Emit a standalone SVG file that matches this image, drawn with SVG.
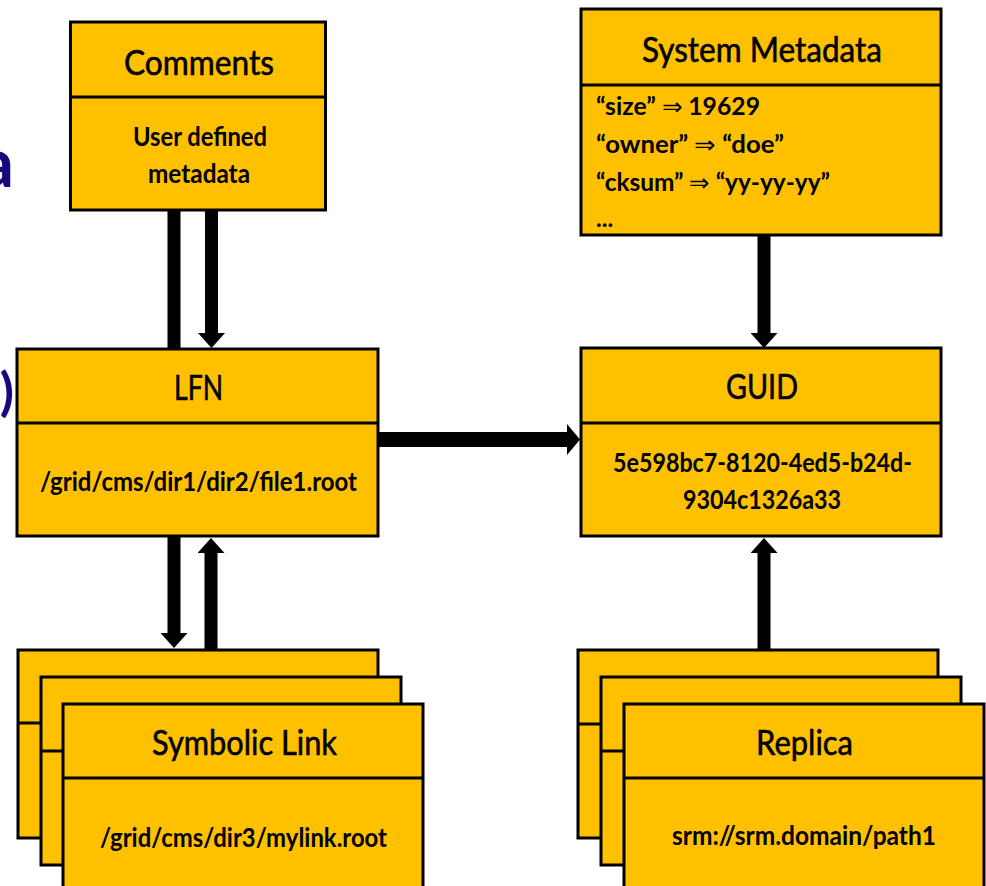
<svg xmlns="http://www.w3.org/2000/svg" width="986" height="886" viewBox="0 0 986 886">
  <style>
    .box { fill: #FFC000; stroke: #000; stroke-width: 3; stroke-linejoin: miter; }
    .div { stroke: #000; stroke-width: 3; }
    .title { font-family: Lato, "Liberation Sans", sans-serif; font-size: 35px; fill: #000; stroke: #000; stroke-width: 0.6; }
    .body { font-family: Lato, "Liberation Sans", sans-serif; font-size: 27px; font-weight: bold; fill: #000; }
    .meta { font-family: Lato, "Liberation Sans", sans-serif; font-size: 24px; font-weight: bold; fill: #000; }
    .bar { stroke: #000; stroke-width: 13; fill: none; }
    .barWide { stroke: #000; stroke-width: 15; fill: none; }
    .heading { font-family: Lato, "Liberation Sans", sans-serif; font-weight: bold; fill: #16097E; }
  </style>
  <defs>
    <!-- arrowheads start at the end of the shaft (refX 0) -->
    <marker id="head" markerUnits="userSpaceOnUse" viewBox="0 0 15 27" refX="0" refY="13.5" markerWidth="15" markerHeight="27" orient="auto">
      <path d="M0,0 L15,13.5 L0,27 Z" fill="#000"/>
    </marker>
    <marker id="headWide" markerUnits="userSpaceOnUse" viewBox="0 0 13 31" refX="0" refY="15.5" markerWidth="13" markerHeight="31" orient="auto">
      <path d="M0,0 L13,15.5 L0,31 Z" fill="#000"/>
    </marker>
  </defs>

  <rect width="986" height="886" fill="#fff"/>

  <!-- slide heading fragments running in from the left edge -->
  <text class="heading" x="14" y="187" font-size="68" text-anchor="end">a</text>
  <text class="heading" x="14" y="410" font-size="52" text-anchor="end">)</text>

  <g id="connectors">
    <path class="bar" d="M174,211 V348"/>
    <path class="bar" d="M211.5,211 V333" marker-end="url(#head)"/>
    <path class="bar" d="M174,537 V633" marker-end="url(#head)"/>
    <path class="bar" d="M211,649 V553" marker-end="url(#head)"/>
    <path class="bar" d="M764,236 V333" marker-end="url(#head)"/>
    <path class="bar" d="M764,649 V553" marker-end="url(#head)"/>
    <path class="barWide" d="M379,439.5 H567" marker-end="url(#headWide)"/>
  </g>

  <g id="comments">
    <rect class="box" x="70.5" y="22" width="255" height="188"/>
    <line class="div" x1="70.5" y1="97" x2="325.5" y2="97"/>
    <text class="title" x="124" y="75" textLength="150" lengthAdjust="spacingAndGlyphs">Comments</text>
    <text class="body" x="133" y="146" textLength="134" lengthAdjust="spacingAndGlyphs">User defined</text>
    <text class="body" x="148" y="183" textLength="102" lengthAdjust="spacingAndGlyphs">metadata</text>
  </g>

  <g id="system-metadata">
    <rect class="box" x="581" y="9" width="360" height="226"/>
    <line class="div" x1="581" y1="85" x2="941" y2="85"/>
    <text class="title" x="642" y="62" textLength="240" lengthAdjust="spacingAndGlyphs">System Metadata</text>
    <text class="meta" x="596" y="115" textLength="164" lengthAdjust="spacingAndGlyphs">“size” <tspan font-weight="normal">⇒</tspan> 19629</text>
    <text class="meta" x="596" y="153" textLength="188" lengthAdjust="spacingAndGlyphs">“owner” <tspan font-weight="normal">⇒</tspan> “doe”</text>
    <text class="meta" x="596" y="191" textLength="234" lengthAdjust="spacingAndGlyphs">“cksum” <tspan font-weight="normal">⇒</tspan> “yy-yy-yy”</text>
    <text class="meta" x="596" y="227">...</text>
  </g>

  <g id="lfn">
    <rect class="box" x="17" y="349" width="361" height="187"/>
    <line class="div" x1="17" y1="423" x2="378" y2="423"/>
    <text class="title" x="174" y="400" textLength="49" lengthAdjust="spacingAndGlyphs">LFN</text>
    <text class="body" x="40" y="491" textLength="317" lengthAdjust="spacingAndGlyphs">/grid/cms/dir1/dir2/file1.root</text>
  </g>

  <g id="guid">
    <rect class="box" x="581" y="348" width="360" height="188"/>
    <line class="div" x1="581" y1="423" x2="941" y2="423"/>
    <text class="title" x="726" y="399" textLength="72" lengthAdjust="spacingAndGlyphs">GUID</text>
    <text class="body" x="613" y="472" textLength="299" lengthAdjust="spacingAndGlyphs">5e598bc7-8120-4ed5-b24d-</text>
    <text class="body" x="683" y="509" textLength="158" lengthAdjust="spacingAndGlyphs">9304c1326a33</text>
  </g>

  <g id="symbolic-link">
    <rect class="box" x="18" y="650" width="360" height="188"/>
    <line class="div" x1="18" y1="723" x2="378" y2="723"/>
    <rect class="box" x="41" y="677" width="360" height="188"/>
    <line class="div" x1="41" y1="751" x2="401" y2="751"/>
    <rect class="box" x="63" y="704" width="360" height="200"/>
    <line class="div" x1="63" y1="778" x2="423" y2="778"/>
    <text class="title" x="152" y="755" textLength="185" lengthAdjust="spacingAndGlyphs">Symbolic Link</text>
    <text class="body" x="100" y="847" textLength="287" lengthAdjust="spacingAndGlyphs">/grid/cms/dir3/mylink.root</text>
  </g>

  <g id="replica">
    <rect class="box" x="578" y="650" width="360" height="188"/>
    <line class="div" x1="578" y1="724" x2="938" y2="724"/>
    <rect class="box" x="601" y="677" width="360" height="188"/>
    <line class="div" x1="601" y1="751" x2="961" y2="751"/>
    <rect class="box" x="624" y="704" width="360" height="200"/>
    <line class="div" x1="624" y1="778" x2="984" y2="778"/>
    <text class="title" x="756" y="755" textLength="97" lengthAdjust="spacingAndGlyphs">Replica</text>
    <text class="body" x="672" y="845" textLength="264" lengthAdjust="spacingAndGlyphs">srm://srm.domain/path1</text>
  </g>
</svg>
